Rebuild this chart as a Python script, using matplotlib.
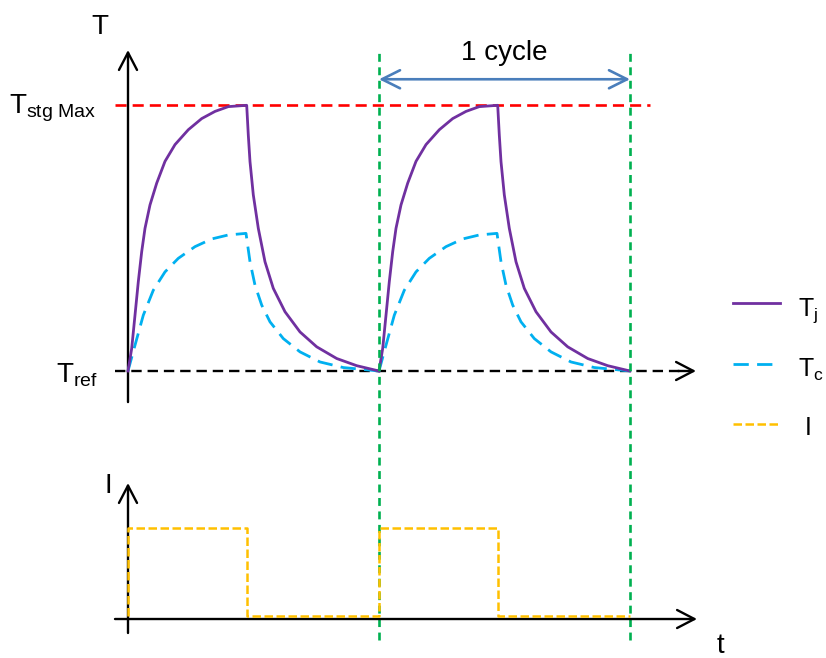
import matplotlib
matplotlib.use("Agg")
import matplotlib.pyplot as plt
from matplotlib.lines import Line2D

plt.rcParams['font.family'] = ['Liberation Sans', 'DejaVu Sans']
plt.rcParams['mathtext.fontset'] = 'custom'
plt.rcParams['mathtext.rm'] = 'Liberation Sans'
plt.rcParams['mathtext.it'] = 'Liberation Sans:italic'

# one power cycle (t in arbitrary units, T normalised Tref=0 .. Tstg max=1)
period = 25.1
tj_t = [0, 0.37, 0.7, 1.03, 1.37, 1.7, 2.2, 2.87, 3.7, 4.7, 6.03, 7.37, 8.7, 10.03, 11.87,
        12.03, 12.2, 12.53, 13.03, 13.7, 14.53, 15.7, 17.2, 18.87, 20.87, 22.87, 25.1]
tj_T = [0, 0.085, 0.210, 0.336, 0.449, 0.537, 0.625, 0.707, 0.789, 0.852, 0.908, 0.950, 0.977,
        0.995, 1.0,
        0.888, 0.788, 0.663, 0.537, 0.411, 0.311, 0.223, 0.147, 0.091, 0.047, 0.020, 0.0]
tc_t = [0, 0.7, 1.53, 2.53, 3.7, 5.03, 6.7, 8.37, 10.03, 11.8,
        12.2, 12.7, 13.37, 14.2, 15.53, 17.2, 19.2, 21.53, 25.1]
tc_T = [0, 0.097, 0.210, 0.304, 0.373, 0.424, 0.468, 0.497, 0.512, 0.518,
        0.411, 0.323, 0.248, 0.185, 0.122, 0.072, 0.034, 0.013, 0.0]
# current pulses
i_t = [0, 0, 11.9, 25.1, 37.0, 50.2]
i_lvl = [0, 1, 0, 1, 0, 0]
n_cycles = 2

purple = '#7030a0'
cyan = '#00b0f0'
yellow = '#ffc000'
green = '#00b050'
blue = '#4a7ebb'

fig = plt.figure(figsize=(8.26, 6.58), dpi=100)
fig.patch.set_facecolor('white')
ax = fig.add_axes([0, 218 / 658, 1, 440 / 658])
axi = fig.add_axes([0, 0, 1, 218 / 658])
for a in (ax, axi):
    a.set_axis_off()
    a.patch.set_visible(False)
    a.set_xlim(-12.8, 69.8)
ax.set_ylim(-0.2597, 1.3963)
axi.set_ylim(-0.477, 2.0)

arrow_kw = dict(arrowstyle='->, head_length=1.25, head_width=0.65', lw=1.7,
                color='black', shrinkA=0, shrinkB=0)

# temperature panel
ax.plot([-1.3, 52.2], [1, 1], color='#ff0000', lw=1.9, dashes=(4.2, 2.3))
ax.plot([-1.3, 55.5], [0, 0], color='black', lw=1.7, dashes=(4.4, 2.5))
ax.annotate('', xy=(56.8, 0), xytext=(55.0, 0), arrowprops=arrow_kw)
ax.annotate('', xy=(0, 1.208), xytext=(0, -0.117), arrowprops=arrow_kw)

for k in range(n_cycles):
    ax.plot([t + k * period for t in tc_t], tc_T, color=cyan, lw=2.0,
            dashes=(5.5, 3.0), zorder=3)
    ax.plot([t + k * period for t in tj_t], tj_T, color=purple, lw=2.0, zorder=4)

for x in (period, 2 * period):
    ax.axvline(x, ymin=-0.4545, ymax=0.886, clip_on=False, color=green,
               lw=1.9, dashes=(3.0, 2.1), zorder=5)

ax.annotate('', xy=(2 * period, 1.098), xytext=(period, 1.098),
            arrowprops=dict(arrowstyle='<->, head_length=1.3, head_width=0.65',
                            lw=1.9, color=blue, shrinkA=0, shrinkB=0))
ax.text(1.5 * period, 1.195, '1 cycle', ha='center', va='center', fontsize=20)

# current panel
axi.annotate('', xy=(0, 1.511), xytext=(0, -0.193), arrowprops=arrow_kw)
axi.annotate('', xy=(56.9, -0.034), xytext=(-1.3, -0.034), arrowprops=arrow_kw)
axi.plot(i_t, i_lvl, drawstyle='steps-post', color=yellow, lw=1.8,
         dashes=(3.4, 1.4), zorder=4)

# labels
fig.text(100 / 826, 1 - 27 / 658, 'T', ha='center', va='center', fontsize=20)
fig.text(108 / 826, 1 - 486 / 658, 'I', ha='center', va='center', fontsize=20)
fig.text(720 / 826, 1 - 646 / 658, 't', ha='center', va='center', fontsize=20)
fig.text(96 / 826, 1 - 108 / 658, r'$\mathregular{T_{stg\ Max}}$', ha='right',
         va='center', fontsize=20)
fig.text(98 / 826, 1 - 375 / 658, r'$\mathregular{T_{ref}}$', ha='right',
         va='center', fontsize=20)

# legend drawn by hand so the rows sit evenly
keys = [(purple, 2.0, None, r'$\mathregular{T_j}$', 302.7, 316),
        (cyan, 2.0, (5.5, 3.0), r'$\mathregular{T_c}$', 364.3, 377),
        (yellow, 1.8, (3.4, 1.4), 'I', 424.3, 435)]
for col, lw, dash, lab, ly, tb in keys:
    ln = Line2D([733 / 826, 780 / 826], [1 - ly / 658, 1 - ly / 658], color=col,
                lw=lw, transform=fig.transFigure)
    if dash:
        ln.set_dashes(dash)
    fig.add_artist(ln)
    fig.text((798 if lab != 'I' else 805) / 826, 1 - tb / 658, lab, ha='left',
             va='baseline', fontsize=18)

plt.savefig("out.png", facecolor='white')
